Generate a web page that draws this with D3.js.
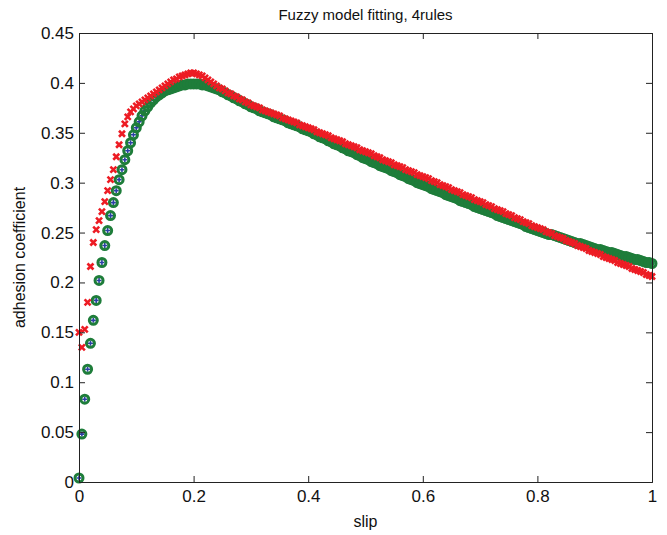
<!DOCTYPE html>
<html>
<head>
<meta charset="utf-8">
<script src="https://cdn.jsdelivr.net/npm/d3@7"></script>
<style>
  body { margin: 0; background: #fff; }
  svg { font-family: "Liberation Sans", Arial, sans-serif; }
</style>
</head>
<body>
<svg id="chart" width="667" height="535"></svg>
<script>
// slip values (x) shared by both series
const slip = [
  0,0.005,0.01,0.015,0.02,0.025,0.03,0.035,0.04,0.045,0.05,0.055,0.06,0.065,0.07,0.075,0.08,0.085,0.09,0.095,
  0.1,0.105,0.11,0.115,0.12,0.125,0.13,0.135,0.14,0.145,0.15,0.155,0.16,0.165,0.17,0.175,0.18,0.185,0.19,0.195,
  0.2,0.205,0.21,0.215,0.22,0.225,0.23,0.235,0.24,0.245,0.25,0.255,0.26,0.265,0.27,0.275,0.28,0.285,0.29,0.295,
  0.3,0.305,0.31,0.315,0.32,0.325,0.33,0.335,0.34,0.345,0.35,0.355,0.36,0.365,0.37,0.375,0.38,0.385,0.39,0.395,
  0.4,0.405,0.41,0.415,0.42,0.425,0.43,0.435,0.44,0.445,0.45,0.455,0.46,0.465,0.47,0.475,0.48,0.485,0.49,0.495,
  0.5,0.505,0.51,0.515,0.52,0.525,0.53,0.535,0.54,0.545,0.55,0.555,0.56,0.565,0.57,0.575,0.58,0.585,0.59,0.595,
  0.6,0.605,0.61,0.615,0.62,0.625,0.63,0.635,0.64,0.645,0.65,0.655,0.66,0.665,0.67,0.675,0.68,0.685,0.69,0.695,
  0.7,0.705,0.71,0.715,0.72,0.725,0.73,0.735,0.74,0.745,0.75,0.755,0.76,0.765,0.77,0.775,0.78,0.785,0.79,0.795,
  0.8,0.805,0.81,0.815,0.82,0.825,0.83,0.835,0.84,0.845,0.85,0.855,0.86,0.865,0.87,0.875,0.88,0.885,0.89,0.895,
  0.9,0.905,0.91,0.915,0.92,0.925,0.93,0.935,0.94,0.945,0.95,0.955,0.96,0.965,0.97,0.975,0.98,0.985,0.99,0.995,
  1
];

// measured adhesion (green circles, blue dots)
const measured = [
  0.004,0.048,0.083,0.113,0.139,0.162,0.182,0.202,0.220,0.237,0.252,0.267,0.280,0.292,0.303,0.313,0.323,0.332,0.340,0.348,
  0.355,0.361,0.367,0.372,0.376,0.380,0.383,0.386,0.388,0.390,0.392,0.393,0.394,0.395,0.396,0.397,0.398,0.398,0.399,0.399,
  0.399,0.399,0.399,0.398,0.398,0.397,0.396,0.395,0.394,0.393,0.391,0.390,0.388,0.387,0.385,0.384,0.382,0.381,0.379,0.378,
  0.376,0.375,0.374,0.372,0.371,0.370,0.369,0.368,0.366,0.365,0.364,0.363,0.362,0.360,0.359,0.358,0.357,0.356,0.354,0.353,
  0.352,0.351,0.349,0.348,0.346,0.345,0.344,0.342,0.341,0.339,0.338,0.337,0.335,0.334,0.332,0.331,0.330,0.328,0.327,0.325,
  0.324,0.323,0.321,0.320,0.319,0.317,0.316,0.315,0.314,0.312,0.311,0.310,0.308,0.307,0.306,0.304,0.303,0.302,0.300,0.299,
  0.298,0.297,0.296,0.294,0.293,0.292,0.291,0.290,0.288,0.287,0.286,0.285,0.284,0.282,0.281,0.280,0.279,0.278,0.276,0.275,
  0.274,0.273,0.272,0.271,0.270,0.269,0.267,0.266,0.265,0.264,0.263,0.262,0.261,0.260,0.259,0.258,0.256,0.255,0.254,0.253,
  0.252,0.251,0.250,0.249,0.248,0.248,0.247,0.246,0.245,0.244,0.243,0.242,0.241,0.240,0.239,0.239,0.238,0.237,0.236,0.235,
  0.234,0.233,0.233,0.232,0.231,0.230,0.230,0.229,0.228,0.227,0.226,0.226,0.225,0.224,0.223,0.223,0.222,0.221,0.220,0.220,
  0.219
];

// fuzzy model output, 4 rules (red crosses)
const fuzzyModel = [
  0.150,0.135,0.153,0.180,0.216,0.240,0.253,0.262,0.271,0.281,0.292,0.303,0.313,0.326,0.338,0.349,0.359,0.366,0.371,0.374,
  0.377,0.379,0.381,0.383,0.385,0.387,0.389,0.391,0.393,0.395,0.397,0.399,0.401,0.403,0.404,0.406,0.407,0.408,0.409,0.410,
  0.410,0.409,0.408,0.407,0.405,0.403,0.401,0.399,0.397,0.395,0.394,0.392,0.390,0.389,0.387,0.386,0.384,0.383,0.381,0.380,
  0.378,0.377,0.376,0.375,0.373,0.372,0.371,0.370,0.369,0.368,0.367,0.365,0.364,0.363,0.362,0.361,0.360,0.358,0.357,0.356,
  0.355,0.354,0.353,0.351,0.350,0.349,0.348,0.347,0.345,0.344,0.343,0.342,0.341,0.339,0.338,0.337,0.336,0.335,0.333,0.332,
  0.331,0.330,0.329,0.327,0.326,0.325,0.323,0.322,0.321,0.320,0.318,0.317,0.316,0.315,0.313,0.312,0.311,0.310,0.308,0.307,
  0.306,0.305,0.304,0.302,0.301,0.300,0.298,0.297,0.296,0.295,0.293,0.292,0.291,0.290,0.288,0.287,0.286,0.285,0.283,0.282,
  0.281,0.280,0.278,0.277,0.276,0.274,0.273,0.272,0.271,0.269,0.268,0.267,0.265,0.264,0.263,0.261,0.260,0.259,0.257,0.256,
  0.255,0.254,0.253,0.251,0.250,0.249,0.247,0.246,0.245,0.244,0.242,0.241,0.240,0.239,0.237,0.236,0.235,0.234,0.232,0.231,
  0.230,0.229,0.228,0.226,0.225,0.224,0.223,0.222,0.220,0.219,0.218,0.217,0.216,0.214,0.213,0.212,0.211,0.210,0.208,0.207,
  0.206
];

const xTicks = [0, 0.2, 0.4, 0.6, 0.8, 1];
const xTickLabels = ["0", "0.2", "0.4", "0.6", "0.8", "1"];
const yTicks = [0, 0.05, 0.1, 0.15, 0.2, 0.25, 0.3, 0.35, 0.4, 0.45];
const yTickLabels = ["0", "0.05", "0.1", "0.15", "0.2", "0.25", "0.3", "0.35", "0.4", "0.45"];

const svg = d3.select("#chart");
const margin = { top: 33, right: 15, bottom: 53, left: 79 };
const width = 667 - margin.left - margin.right;
const height = 535 - margin.top - margin.bottom;

const g = svg.append("g").attr("transform", "translate(" + margin.left + "," + margin.top + ")");

let xScale = d3.scaleLinear().domain([0, 1]).range([0, width]);
let yScale = d3.scaleLinear().domain([0, 0.45]).range([height, 0]);

const points = slip.map((s, i) => ({ s: s, m: measured[i], f: fuzzyModel[i] }));

// blue dots under the green circles
g.append("g")
  .selectAll("path")
  .data(points)
  .enter()
  .append("path")
  .attr("d", "M-2.5,0H2.5M0,-2.5V2.5")
  .attr("transform", (d) => "translate(" + xScale(d.s) + "," + yScale(d.m) + ")")
  .attr("stroke", "#2b3fa6")
  .attr("stroke-width", 1.6)
  .attr("fill", "none");

g.append("g")
  .selectAll("circle")
  .data(points)
  .enter()
  .append("circle")
  .attr("cx", (d) => xScale(d.s))
  .attr("cy", (d) => yScale(d.m))
  .attr("r", 4)
  .attr("fill", "none")
  .attr("stroke", "#1e7d3a")
  .attr("stroke-width", 3);

g.append("g")
  .selectAll("path")
  .data(points)
  .enter()
  .append("path")
  .attr("d", "M-3,-3L3,3M-3,3L3,-3")
  .attr("transform", (d) => "translate(" + xScale(d.s) + "," + yScale(d.f) + ")")
  .attr("stroke", "#ed1c24")
  .attr("stroke-width", 2.6)
  .attr("fill", "none");

// axes, MATLAB style box with inward ticks
const tickLen = 6;
g.append("g")
  .attr("transform", "translate(0," + height + ")")
  .call(d3.axisBottom(xScale).tickValues(xTicks).tickSize(-tickLen).tickPadding(8)
    .tickFormat((d, i) => xTickLabels[i]));
g.append("g")
  .call(d3.axisTop(xScale).tickValues(xTicks).tickSize(-tickLen).tickFormat(""));
g.append("g")
  .call(d3.axisLeft(yScale).tickValues(yTicks).tickSize(-tickLen).tickPadding(5)
    .tickFormat((d, i) => yTickLabels[i]));
g.append("g")
  .attr("transform", "translate(" + width + ",0)")
  .call(d3.axisRight(yScale).tickValues(yTicks).tickSize(-tickLen).tickFormat(""));

g.selectAll(".domain").attr("stroke", "#222").attr("stroke-width", 1);
g.selectAll(".tick line").attr("stroke", "#222");
g.selectAll(".tick text").attr("fill", "#111").style("font-size", "17px");

svg.append("text")
  .attr("x", margin.left + width / 2)
  .attr("y", 20)
  .attr("text-anchor", "middle")
  .style("font-size", "15px")
  .attr("fill", "#111")
  .text("Fuzzy model fitting, 4rules");

svg.append("text")
  .attr("x", margin.left + width / 2)
  .attr("y", 527)
  .attr("text-anchor", "middle")
  .style("font-size", "16px")
  .attr("fill", "#111")
  .text("slip");

svg.append("text")
  .attr("transform", "translate(25," + (margin.top + height / 2) + ") rotate(-90)")
  .attr("text-anchor", "middle")
  .style("font-size", "16px")
  .attr("fill", "#111")
  .text("adhesion coefficient");
</script>
</body>
</html>
